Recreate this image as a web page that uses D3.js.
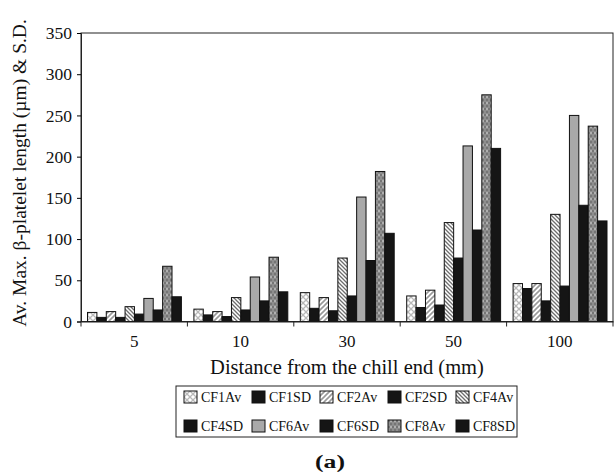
<!DOCTYPE html>
<html>
<head>
<meta charset="utf-8">
<script src="https://cdn.jsdelivr.net/npm/d3@7"></script>
<style>
  body { margin: 0; background: #fff; }
  svg text { font-family: "Liberation Serif", "Times New Roman", serif; fill: #111; }
</style>
</head>
<body>
<svg id="chart" width="615" height="476"></svg>
<script>
let categories = ['5', '10', '30', '50', '100']
let seriesNames = ['CF1Av', 'CF1SD', 'CF2Av', 'CF2SD', 'CF4Av', 'CF4SD', 'CF6Av', 'CF6SD', 'CF8Av', 'CF8SD']

let cf1Av = [11, 15, 35, 31, 46]
let cf1SD = [5, 8, 16, 17, 40]
let cf2Av = [12, 12, 29, 38, 46]
let cf2SD = [5, 6, 13, 20, 25]
let cf4Av = [18, 29, 77, 120, 130]
let cf4SD = [9, 14, 31, 77, 43]
let cf6Av = [28, 54, 151, 213, 250]
let cf6SD = [14, 25, 74, 111, 141]
let cf8Av = [67, 78, 182, 275, 237]
let cf8SD = [30, 36, 107, 210, 122]

let yTicks = [0, 50, 100, 150, 200, 250, 300, 350]

let values = [cf1Av, cf1SD, cf2Av, cf2SD, cf4Av, cf4SD, cf6Av, cf6SD, cf8Av, cf8SD]

let margin = {left: 81, right: 2, top: 33, bottom: 154.5}
let width = 615
let height = 476

let svg = d3.select('#chart')
let defs = svg.append('defs')

// fill patterns, one per "Av" series
let pat1 = defs.append('pattern').attr('id', 'p-cf1').attr('patternUnits', 'userSpaceOnUse')
    .attr('width', 6).attr('height', 6)
pat1.append('rect').attr('width', 6).attr('height', 6).attr('fill', '#fff')
pat1.append('path').attr('d', 'M0,0 L6,6 M6,0 L0,6').attr('stroke', '#b8b8b8').attr('stroke-width', 1.3)

let pat2 = defs.append('pattern').attr('id', 'p-cf2').attr('patternUnits', 'userSpaceOnUse')
    .attr('width', 5).attr('height', 5)
pat2.append('rect').attr('width', 5).attr('height', 5).attr('fill', '#fff')
pat2.append('path').attr('d', 'M-1,6 L6,-1 M-1,1 L1,-1 M4,6 L6,4').attr('stroke', '#999').attr('stroke-width', 1.6)

let pat4 = defs.append('pattern').attr('id', 'p-cf4').attr('patternUnits', 'userSpaceOnUse')
    .attr('width', 4).attr('height', 4)
pat4.append('rect').attr('width', 4).attr('height', 4).attr('fill', '#fff')
pat4.append('path').attr('d', 'M-1,-1 L5,5 M3,-1 L5,1 M-1,3 L1,5').attr('stroke', '#6e6e6e').attr('stroke-width', 1.3)

let pat8 = defs.append('pattern').attr('id', 'p-cf8').attr('patternUnits', 'userSpaceOnUse')
    .attr('width', 4).attr('height', 6)
pat8.append('rect').attr('width', 4).attr('height', 6).attr('fill', '#8e8e8e')
pat8.append('rect').attr('width', 2).attr('height', 2).attr('fill', '#757575')
pat8.append('rect').attr('x', 2).attr('y', 3).attr('width', 2).attr('height', 2).attr('fill', '#757575')
pat8.append('circle').attr('cx', 3).attr('cy', 1).attr('r', 0.7).attr('fill', '#eeeeee')

let fills = {
    'CF1Av': 'url(#p-cf1)',
    'CF1SD': '#151515',
    'CF2Av': 'url(#p-cf2)',
    'CF2SD': '#151515',
    'CF4Av': 'url(#p-cf4)',
    'CF4SD': '#151515',
    'CF6Av': '#a9a9a9',
    'CF6SD': '#151515',
    'CF8Av': 'url(#p-cf8)',
    'CF8SD': '#151515'
}

let x0 = d3.scaleBand().domain(categories).range([margin.left, width - margin.right]).padding(0)
let x1 = d3.scaleBand().domain(seriesNames).range([6.5, x0.bandwidth() - 6]).padding(0)
let y = d3.scaleLinear().domain([0, 350]).range([height - margin.bottom, margin.top])

// plot frame
svg.append('rect')
   .attr('x', margin.left).attr('y', margin.top)
   .attr('width', width - margin.right - margin.left)
   .attr('height', height - margin.bottom - margin.top)
   .attr('fill', 'none').attr('stroke', '#222').attr('stroke-width', 1)

let rows = []
categories.forEach((c, i) => {
    seriesNames.forEach((s, j) => {
        rows.push({category: c, series: s, value: values[j][i]})
    })
})

svg.append('g').selectAll('rect')
   .data(rows)
   .enter()
   .append('rect')
   .attr('x', (d) => x0(d.category) + x1(d.series))
   .attr('y', (d) => y(d.value))
   .attr('width', x1.bandwidth())
   .attr('height', (d) => y(0) - y(d.value))
   .attr('fill', (d) => fills[d.series])
   .attr('stroke', '#111')
   .attr('stroke-width', 1)

// y axis
let yAxis = svg.append('g')
   .attr('transform', 'translate(' + margin.left + ',0)')
   .call(d3.axisLeft(y).tickValues(yTicks).tickSize(4).tickPadding(5))
yAxis.select('.domain').attr('stroke', '#222')
yAxis.selectAll('text').style('font-size', '17.5px').style('font-family', '"Liberation Serif", serif').attr('fill', '#111')

// x axis: ticks sit on the category boundaries
let xAxis = svg.append('g')
   .attr('transform', 'translate(0,' + y(0) + ')')
   .call(d3.axisBottom(x0).tickSize(0).tickPadding(13))
xAxis.select('.domain').attr('stroke', '#222')
xAxis.selectAll('text').style('font-size', '17px').style('font-family', '"Liberation Serif", serif').attr('fill', '#111')
xAxis.selectAll('.bound')
   .data(categories.concat(['end']))
   .enter()
   .append('line')
   .attr('class', 'bound')
   .attr('x1', (d, i) => i < categories.length ? x0(d) : width - margin.right)
   .attr('x2', (d, i) => i < categories.length ? x0(d) : width - margin.right)
   .attr('y1', 0).attr('y2', 5)
   .attr('stroke', '#222')

// axis titles
svg.append('text')
   .attr('x', (margin.left + width - margin.right) / 2)
   .attr('y', 374)
   .attr('text-anchor', 'middle')
   .style('font-size', '20.5px')
   .text('Distance from the chill end (mm)')

svg.append('text')
   .attr('transform', 'translate(26,173) rotate(-90)')
   .attr('text-anchor', 'middle')
   .style('font-size', '19.5px')
   .text('Av. Max. β-platelet length (µm) & S.D.')

// legend
let legend = svg.append('g')
legend.append('rect')
   .attr('x', 176).attr('y', 386).attr('width', 341).attr('height', 51)
   .attr('fill', '#fff').attr('stroke', '#222')

let item = legend.selectAll('.legend-item')
   .data(seriesNames)
   .enter()
   .append('g')
   .attr('class', 'legend-item')
   .attr('transform', (d, i) => 'translate(' + (184 + (i % 5) * 68) + ',' + (391 + Math.floor(i / 5) * 29) + ')')

item.append('rect')
   .attr('width', 13).attr('height', 12)
   .attr('fill', (d) => fills[d])
   .attr('stroke', '#111')

item.append('text')
   .attr('x', 17).attr('y', 11)
   .style('font-size', '14px')
   .text((d) => d)

svg.append('text')
   .attr('transform', 'translate(330,468) scale(1.35,1)')
   .attr('text-anchor', 'middle')
   .style('font-size', '19px')
   .style('font-weight', 'bold')
   .text('(a)')
</script>
</body>
</html>
